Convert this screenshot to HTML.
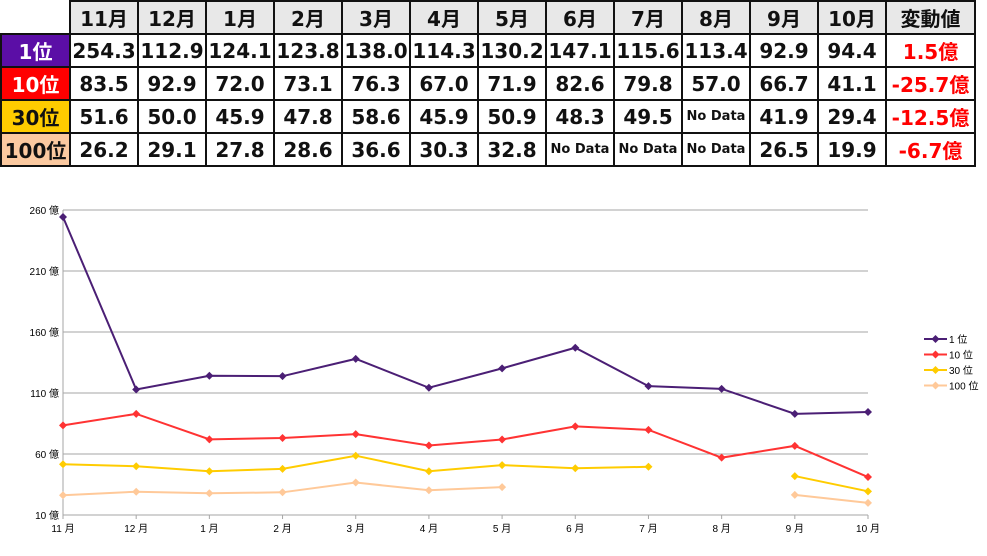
<!DOCTYPE html>
<html><head><meta charset="utf-8"><style>
body{margin:0;background:#fff;width:987px;height:556px;overflow:hidden;font-family:"Liberation Sans","Noto Sans CJK JP",sans-serif}
table{position:absolute;left:0;top:0;border-collapse:collapse;table-layout:fixed}
td{border:2px solid #111;height:31px;padding:0;text-align:center;font-weight:bold;font-size:20px;font-family:"DejaVu Sans","Noto Sans CJK JP",sans-serif;color:#111;white-space:nowrap;overflow:hidden}
tr.h td{background:#e8e8e8;height:31px}
td.nd{font-size:13px}
td.r{color:#f00}
tr.h td.c0{border-top:none;border-left:none;background:#fff}
</style></head><body>
<table>
<colgroup><col style="width:69px"><col span="12" style="width:68px"><col style="width:89px"></colgroup>
<tr class="h"><td class="c0"></td><td>11月</td><td>12月</td><td>1月</td><td>2月</td><td>3月</td><td>4月</td><td>5月</td><td>6月</td><td>7月</td><td>8月</td><td>9月</td><td>10月</td><td>変動値</td></tr>
<tr><td style="background:#5b0ea6;color:#fff">1位</td><td>254.3</td><td>112.9</td><td>124.1</td><td>123.8</td><td>138.0</td><td>114.3</td><td>130.2</td><td>147.1</td><td>115.6</td><td>113.4</td><td>92.9</td><td>94.4</td><td class="r">1.5億</td></tr>
<tr><td style="background:#f00;color:#fff">10位</td><td>83.5</td><td>92.9</td><td>72.0</td><td>73.1</td><td>76.3</td><td>67.0</td><td>71.9</td><td>82.6</td><td>79.8</td><td>57.0</td><td>66.7</td><td>41.1</td><td class="r">-25.7億</td></tr>
<tr><td style="background:#ffcc00">30位</td><td>51.6</td><td>50.0</td><td>45.9</td><td>47.8</td><td>58.6</td><td>45.9</td><td>50.9</td><td>48.3</td><td>49.5</td><td class="nd">No Data</td><td>41.9</td><td>29.4</td><td class="r">-12.5億</td></tr>
<tr><td style="background:#fbc9a0">100位</td><td>26.2</td><td>29.1</td><td>27.8</td><td>28.6</td><td>36.6</td><td>30.3</td><td>32.8</td><td class="nd">No Data</td><td class="nd">No Data</td><td class="nd">No Data</td><td>26.5</td><td>19.9</td><td class="r">-6.7億</td></tr>
</table>
<svg id="chart" width="987" height="556" style="position:absolute;left:0;top:0" xmlns="http://www.w3.org/2000/svg" font-family="Liberation Sans, Noto Sans CJK JP, sans-serif"></svg>
<script>
const categories=["11 月","12 月","1 月","2 月","3 月","4 月","5 月","6 月","7 月","8 月","9 月","10 月"];
const yTicks=[10,60,110,160,210,260];
const seriesNames=["1 位","10 位","30 位","100 位"];
const seriesColors=["#4b1f75","#ff3333","#ffcc00","#ffc999"];
const s1=[254.3,112.9,124.1,123.8,138.0,114.3,130.2,147.1,115.6,113.4,92.9,94.4];
const s10=[83.5,92.9,72.0,73.1,76.3,67.0,71.9,82.6,79.8,57.0,66.7,41.1];
const s30=[51.6,50.0,45.9,47.8,58.6,45.9,50.9,48.3,49.5,null,41.9,29.4];
const s100=[26.2,29.1,27.8,28.6,36.6,30.3,32.8,null,null,null,26.5,19.9];
const series=[s1,s10,s30,s100];
const svg=document.getElementById('chart');const NS='http://www.w3.org/2000/svg';
const X0=63,X1=868,Y0=515,Y1=210;
const x=i=>X0+i*(X1-X0)/(categories.length-1);
const y=v=>Y0-(v-yTicks[0])*(Y0-Y1)/(yTicks[yTicks.length-1]-yTicks[0]);
function mk(t,a){const e=document.createElementNS(NS,t);for(const k in a)e.setAttribute(k,a[k]);svg.appendChild(e);return e;}
yTicks.forEach(v=>{
const g=mk('line',{x1:X0,x2:X1,y1:y(v),y2:y(v),stroke:'#a6a6a6','stroke-width':1});


const t=mk('text',{x:X0-4,y:y(v)+4,'font-size':10,'text-anchor':'end',fill:'#000'});t.textContent=v+' 億';


});
const ax=mk('line',{x1:X0,x2:X0,y1:Y1,y2:Y0,stroke:'#a6a6a6'});


categories.forEach((c,i)=>{
const tk=mk('line',{x1:x(i),x2:x(i),y1:Y0,y2:Y0+4,stroke:'#a6a6a6'});


const t=mk('text',{x:x(i),y:Y0+17,'font-size':10,'text-anchor':'middle',fill:'#000'});t.textContent=c;


});
function diamond(cx,cy,col){const p=mk('polygon',{points:`${cx},${cy-4} ${cx+4},${cy} ${cx},${cy+4} ${cx-4},${cy}`,fill:col});return p;}
series.forEach((s,si)=>{
let d='',pen=false;
s.forEach((v,i)=>{if(v==null){pen=false;return;}d+=(pen?'L':'M')+x(i)+','+y(v)+' ';pen=true;});
const l=mk('path',{d:d,fill:'none',stroke:seriesColors[si],'stroke-width':2});


s.forEach((v,i)=>{if(v==null)return;const p=diamond(x(i),y(v),seriesColors[si]);

});
const ly=339+si*15.5;
const ll=mk('line',{x1:924,x2:947,y1:ly,y2:ly,stroke:seriesColors[si],'stroke-width':2});


diamond(935.5,ly,seriesColors[si]);
const lt=mk('text',{x:949,y:ly+4,'font-size':10,fill:'#000'});lt.textContent=seriesNames[si];


});
</script>
</body></html>
